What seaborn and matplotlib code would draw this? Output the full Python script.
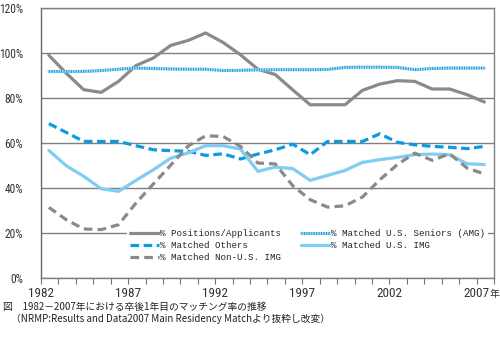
import matplotlib
matplotlib.use("Agg")
import matplotlib.pyplot as plt
import seaborn as sns
import pandas as pd
from matplotlib import font_manager
from matplotlib.ticker import MultipleLocator, FixedLocator, FuncFormatter
from matplotlib.lines import Line2D
from matplotlib.legend_handler import HandlerTuple

# NRMP first-year match rates, 1982-2007 (%)
years = list(range(1982, 2008))
positions_applicants = [99.0, 91.0, 83.7, 82.5, 87.4, 94.4, 97.8, 103.4, 105.6, 108.9,
                        104.7, 99.2, 92.8, 90.4, 83.6, 77.0, 77.0, 77.0, 83.4, 86.2,
                        87.7, 87.4, 84.0, 84.0, 81.5, 78.2]
matched_us_seniors = [91.8, 91.8, 91.8, 92.2, 92.8, 93.3, 93.1, 92.9, 92.8, 92.8,
                      92.2, 92.3, 92.5, 92.6, 92.6, 92.6, 92.7, 93.6, 93.7, 93.7,
                      93.6, 92.6, 93.1, 93.3, 93.3, 93.3]
matched_others = [68.6, 64.7, 60.7, 60.7, 60.7, 58.8, 57.0, 56.6, 56.3, 54.5,
                  55.2, 52.9, 55.1, 57.0, 59.5, 54.8, 60.7, 60.7, 60.7, 64.1,
                  60.3, 59.2, 58.5, 58.1, 57.5, 58.5]
matched_us_img = [56.7, 49.9, 45.2, 39.7, 38.5, 43.4, 48.1, 53.3, 55.6, 58.8,
                  58.8, 57.3, 47.4, 49.3, 48.6, 43.4, 45.6, 47.8, 51.4, 52.6,
                  53.6, 54.8, 55.1, 54.8, 50.8, 50.4]
matched_non_us_img = [31.4, 25.9, 21.8, 21.5, 23.7, 33.3, 41.8, 50.2, 58.7, 63.2,
                      62.9, 58.5, 51.1, 50.7, 41.0, 34.8, 31.5, 32.1, 36.0, 43.7,
                      50.4, 55.5, 52.3, 55.2, 48.9, 46.2]
x_tick_years = [1982, 1987, 1992, 1997, 2002, 2007]
y_ticks = [0, 20, 40, 60, 80, 100, 120]

labels = ["% Positions/Applicants", "% Matched Others", "% Matched Non-U.S. IMG",
          "% Matched U.S. Seniors (AMG)", "% Matched U.S. IMG"]

GRAY = "#8a8a8a"
BLUE = "#0a9be3"
LIGHT = "#7fcdf3"
DOT_BASE = "#a9dcf5"
DOT = "#1a9ce6"

sns.set_theme(style="white")

# pick a narrow sans for the axis numbers
installed = {f.name for f in font_manager.fontManager.ttflist}
narrow_stretch = "normal"
narrow = "DejaVu Sans"
for cand in ["Liberation Sans Narrow", "Roboto Condensed", "Open Sans Condensed",
             "DejaVu Sans Condensed"]:
    if cand in installed:
        narrow = cand
        break
else:
    condensed = [f for f in font_manager.fontManager.ttflist
                 if f.name == "DejaVu Sans" and f.stretch in ("condensed", 375, "semi-condensed")]
    if condensed:
        narrow_stretch = "condensed"
is_narrow = narrow != "DejaVu Sans" or narrow_stretch != "normal"
x_size = 9.5 if is_narrow else 8.2
y_size = 8.3 if is_narrow else 7.4

plt.rcParams["font.family"] = [narrow, "DejaVu Sans"]
plt.rcParams["font.stretch"] = narrow_stretch

fig = plt.figure(figsize=(5, 3.38), dpi=100)
ax = fig.add_axes([0.082, 0.1775, 0.906, 0.7988])

# each year's value sits inside its year slot on the axis
xs = [y + 0.45 for y in years]
df = pd.DataFrame({
    "x": xs,
    "pos": positions_applicants,
    "sen": matched_us_seniors,
    "oth": matched_others,
    "img": matched_us_img,
    "non": matched_non_us_img,
})

lw = 2.3
sns.lineplot(data=df, x="x", y="pos", ax=ax, color=GRAY, lw=lw, zorder=3)
sns.lineplot(data=df, x="x", y="sen", ax=ax, color=DOT_BASE, lw=2.2, zorder=3)
sns.lineplot(data=df, x="x", y="sen", ax=ax, color=DOT, lw=2.2,
             linestyle=(0, (0.35, 0.45)), zorder=3)
sns.lineplot(data=df, x="x", y="oth", ax=ax, color=BLUE, lw=lw,
             linestyle=(0, (2.7, 1.4)), zorder=3)
sns.lineplot(data=df, x="x", y="img", ax=ax, color=LIGHT, lw=lw, zorder=3)
sns.lineplot(data=df, x="x", y="non", ax=ax, color=GRAY, lw=lw,
             linestyle=(0, (2.7, 1.6)), zorder=4)

ax.set_xlim(1982, 2008)
ax.set_ylim(0, 120)
ax.set_xlabel("")
ax.set_ylabel("")
ax.xaxis.set_major_locator(FixedLocator(x_tick_years))
ax.xaxis.set_minor_locator(MultipleLocator(1))
ax.set_xticklabels([str(y) for y in x_tick_years])
ax.yaxis.set_major_locator(FixedLocator(y_ticks))
ax.yaxis.set_major_formatter(FuncFormatter(lambda v, p: f"{int(v)}%"))

ax.grid(axis="y", color="#808080", lw=1.0, zorder=1)
ax.set_axisbelow(True)
for side, sp in ax.spines.items():
    sp.set_color("#808080")
    sp.set_linewidth(1.0)
ax.spines["left"].set_color("#6a6a6a")

ax.tick_params(axis="x", which="both", bottom=True, direction="out", length=4,
               width=0.8, color="#707070", pad=2.5, labelsize=x_size, labelcolor="#333333")
ax.tick_params(axis="y", which="both", left=False, length=0, pad=13,
               labelsize=y_size, labelcolor="#333333")

# legend
h_pos = Line2D([], [], color=GRAY, lw=lw)
h_oth = Line2D([], [], color=BLUE, lw=lw, linestyle=(0, (2.7, 1.4)))
h_non = Line2D([], [], color=GRAY, lw=lw, linestyle=(0, (2.7, 1.6)))
h_sen = (Line2D([], [], color=DOT_BASE, lw=2.2),
         Line2D([], [], color=DOT, lw=2.2, linestyle=(0, (0.35, 0.45))))
h_img = Line2D([], [], color=LIGHT, lw=lw)
leg = ax.legend([h_pos, h_oth, h_non, h_sen, h_img], labels,
                handler_map={tuple: HandlerTuple(ndivide=1)},
                ncol=2, loc="upper left", bbox_to_anchor=(0.19, 0.192),
                prop={"family": ["Liberation Mono", "DejaVu Sans Mono"], "size": 6.6},
                frameon=True, facecolor="white", edgecolor="none", framealpha=1,
                fancybox=False, handlelength=3.1, handletextpad=0.15,
                columnspacing=2.2, labelspacing=0.3, borderpad=0.35,
                borderaxespad=0)
leg.set_zorder(5)

# the year unit follows the last tick label
fig.canvas.draw()
last = ax.get_xticklabels()[-1]
bb = last.get_window_extent()
fig.text(bb.x1 / 500, (bb.y0 + bb.y1) / 2 / 338, "年",
         family=["Noto Sans CJK JP"], size=7.2,
         color="#333333", ha="left", va="center", stretch="normal")

fig.text(3 / 500, 1 - 307 / 338, "図　1982－2007年における卒後1年目のマッチング率の推移",
         family=["Noto Sans CJK JP", "DejaVu Sans"], size=7, color="#222222",
         ha="left", va="center", stretch="normal")
fig.text(11 / 500, 1 - 319 / 338,
         "（NRMP:Results and Data2007 Main Residency Matchより抜粋し改変）",
         family=["Noto Sans CJK JP", "DejaVu Sans"], size=7, color="#222222",
         ha="left", va="center", stretch="normal")

fig.savefig("out.png", dpi=100, facecolor="white")
